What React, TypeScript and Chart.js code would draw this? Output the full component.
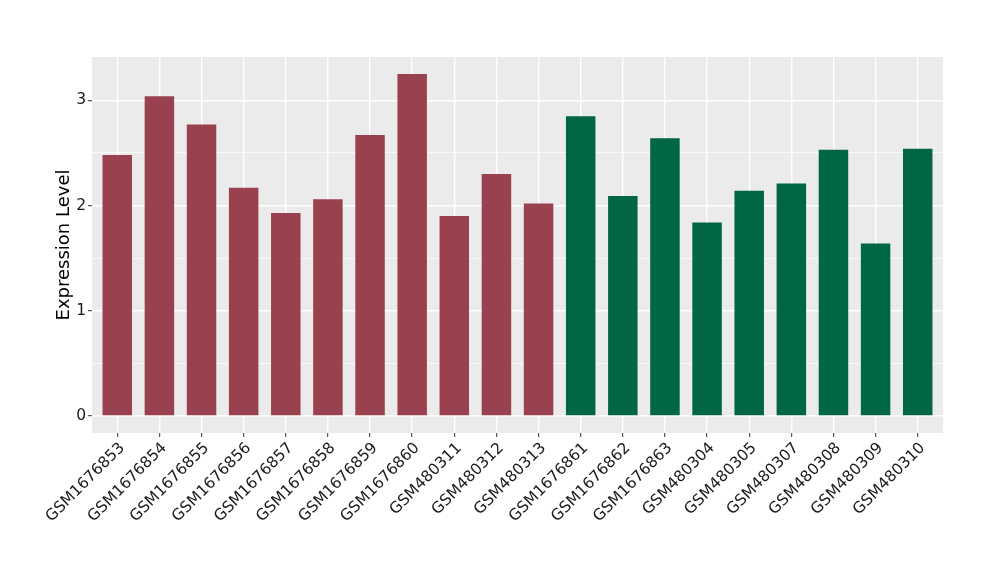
import React, { useEffect, useRef } from "react";
import { Chart, registerables } from "chart.js";

Chart.register(...registerables);

const categories = [
  "GSM1676853", "GSM1676854", "GSM1676855", "GSM1676856", "GSM1676857",
  "GSM1676858", "GSM1676859", "GSM1676860", "GSM480311", "GSM480312",
  "GSM480313", "GSM1676861", "GSM1676862", "GSM1676863", "GSM480304",
  "GSM480305", "GSM480307", "GSM480308", "GSM480309", "GSM480310",
];
const values = [
  2.48, 3.04, 2.77, 2.17, 1.93, 2.06, 2.67, 3.25, 1.90, 2.30,
  2.02, 2.85, 2.09, 2.64, 1.84, 2.14, 2.21, 2.53, 1.64, 2.54,
];
const groups = [
  0, 0, 0, 0, 0, 0, 0, 0, 0, 0,
  0, 1, 1, 1, 1, 1, 1, 1, 1, 1,
];
const groupColors = ["#9A4150", "#006644"];
const yTicks = [0, 0.5, 1, 1.5, 2, 2.5, 3];
const yTitle = "Expression Level";

const FONT = "DejaVu Sans";

const panelBg = {
  id: "panelBg",
  beforeDraw(chart: any) {
    const { ctx, chartArea } = chart;
    ctx.save();
    ctx.fillStyle = "#EBEBEB";
    ctx.fillRect(chartArea.left, chartArea.top, chartArea.right - chartArea.left, chartArea.bottom - chartArea.top);
    ctx.restore();
  },
};

export default function App() {
  const ref = useRef<HTMLCanvasElement>(null);
  useEffect(() => {
    if (!ref.current) return;
    const maxV = Math.max(...values);
    const minV = 0;
    const span = maxV - minV;
    const chart = new Chart(ref.current, {
      type: "bar",
      data: {
        datasets: [
          {
            data: values.map((v, i) => ({ x: i, y: v })),
            backgroundColor: groups.map((g) => groupColors[g]),
            barPercentage: 0.7,
            categoryPercentage: 1,
          },
        ],
      },
      plugins: [panelBg],
      options: {
        responsive: false,
        animation: false,
        layout: { padding: { left: 48, right: 57, top: 57, bottom: 0 } },
        plugins: { legend: { display: false }, tooltip: { enabled: false } },
        scales: {
          x: {
            type: "linear",
            offset: false,
            min: -0.6,
            max: categories.length - 1 + 0.6,
            afterBuildTicks: (scale: any) => {
              scale.ticks = categories.map((_, i) => ({ value: i }));
            },
            afterFit: (scale: any) => {
              scale.height = 580 - 433;
            },
            border: { display: false },
            grid: {
              offset: false,
              color: "#FFFFFF",
              lineWidth: 1.4,
              tickColor: "#333333",
              tickLength: 4,
              tickWidth: 1,
            },
            ticks: {
              autoSkip: false,
              maxRotation: 45,
              minRotation: 45,
              padding: 2,
              labelOffset: 5,
              color: "#1A1A1A",
              font: { family: FONT, size: 15.5 },
              callback: (v: any) => categories[v as number] ?? "",
            },
          },
          y: {
            type: "linear",
            min: minV - span * 0.05,
            max: maxV + span * 0.05,
            afterBuildTicks: (scale: any) => {
              scale.ticks = yTicks.map((v) => ({ value: v }));
            },
            afterFit: (scale: any) => {
              scale.width = 92 - 48;
            },
            border: { display: false },
            grid: {
              color: "#FFFFFF",
              lineWidth: (ctx: any) => (ctx.tick && ctx.tick.value % 1 === 0 ? 1.4 : 0.7),
              tickColor: (ctx: any) => (ctx.tick && ctx.tick.value % 1 === 0 ? "#333333" : "rgba(0,0,0,0)"),
              tickLength: 4,
              tickWidth: 1,
            },
            ticks: {
              padding: 2,
              color: "#1A1A1A",
              font: { family: FONT, size: 15.5 },
              callback: (v: any) => (Number(v) % 1 === 0 ? String(v) : ""),
            },
            title: {
              display: true,
              text: yTitle,
              color: "#000000",
              font: { family: FONT, size: 18 },
              padding: { top: 6, bottom: 0 },
            },
          },
        },
      },
    });
    return () => chart.destroy();
  }, []);
  return (
    <div style={{ position: "absolute", left: 0, top: 0, width: 1000, height: 580, background: "#fff" }}>
      <canvas ref={ref} width={1000} height={580} style={{ display: "block" }} />
    </div>
  );
}
